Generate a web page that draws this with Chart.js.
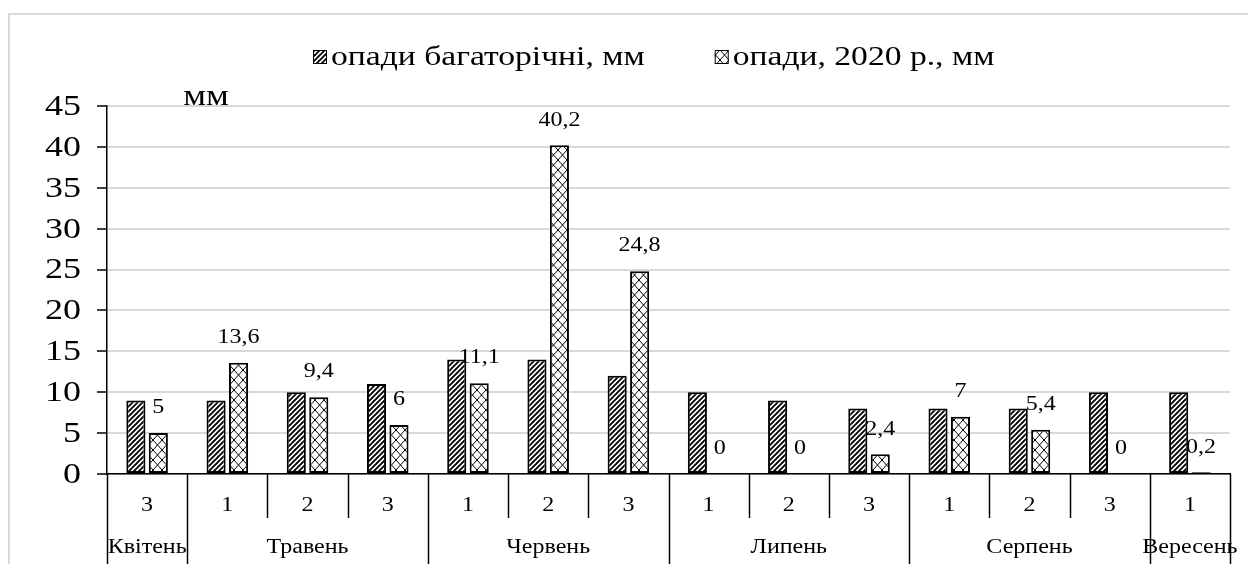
<!DOCTYPE html>
<html><head><meta charset="utf-8">
<script src="https://cdn.jsdelivr.net/npm/chart.js@4.4.1/dist/chart.umd.min.js"></script>
<style>html,body{margin:0;padding:0;background:#fff}#wrap{width:1248px;height:564px;position:relative}</style>
</head><body><div id="wrap"><canvas id="c" width="1248" height="564"></canvas></div>
<script>
const decades = ['3','1','2','3','1','2','3','1','2','3','1','2','3','1'];
const monthNames = ['Квітень','Травень','Червень','Липень','Серпень','Вересень'];
const monthSpans = [1,3,3,3,3,1];
const longTerm = [9,9,10,11,14,14,12,10,9,8,8,8,10,10];
const rain2020 = [5,13.6,9.4,6,11.1,40.2,24.8,0,0,2.4,7,5.4,0,0.2];
const yTicks = [0,5,10,15,20,25,30,35,40,45];
const seriesNames = ['опади багаторічні, мм','опади, 2020 р., мм'];
const unitLabel = 'мм';

const SERIF = "'Liberation Serif', serif";
const SX = 1.2; // horizontal text stretch of the original picture
const canvas = document.getElementById('c');
const ctx = canvas.getContext('2d');

function diagPattern(){
  const s=5, c=document.createElement('canvas'); c.width=c.height=s;
  const g=c.getContext('2d'); g.fillStyle='#fff'; g.fillRect(0,0,s,s);
  g.strokeStyle='#000'; g.lineWidth=1.9; g.beginPath();
  for(let k=-1;k<=1;k++){ g.moveTo(k*s - 1, s + 1); g.lineTo(k*s + s + 1, -1); }
  g.stroke(); return ctx.createPattern(c,'repeat');
}
function crossPattern(){
  const w=9,h=10, c=document.createElement('canvas'); c.width=w; c.height=h;
  const g=c.getContext('2d'); g.fillStyle='#fff'; g.fillRect(0,0,w,h);
  g.strokeStyle='#000'; g.lineWidth=1; g.beginPath();
  g.moveTo(0,0); g.lineTo(w,h); g.moveTo(0,h); g.lineTo(w,0); g.stroke();
  return ctx.createPattern(c,'repeat');
}
const pDiag = diagPattern(), pCross = crossPattern();

function txt(g, s, x, y, size, align, base){
  g.save();
  g.font = size+'px '+SERIF; g.fillStyle='#000';
  g.textAlign = align||'center'; g.textBaseline = base||'middle';
  g.translate(x,y); g.scale(SX,1); g.fillText(s,0,0);
  g.restore();
}

const decor = {
  id:'decor',
  beforeDraw(chart){
    const g=chart.ctx; g.save();
    g.strokeStyle='#d9d9d9'; g.lineWidth=2;
    g.strokeRect(9,14,1400,700);
    g.restore();
  },
  afterDraw(chart){
    const g=chart.ctx, x=chart.scales.x, y=chart.scales.y, ca=chart.chartArea;
    g.save();
    // legend
    const pats=[pDiag,pCross];
    const box=14, gapT=4, gapI=70;
    let lx=313; const ly=57;
    seriesNames.forEach((s,i)=>{
      g.fillStyle=pats[i]; g.fillRect(lx,ly-box/2,box,box);
      g.strokeStyle='#000'; g.lineWidth=1; g.strokeRect(lx+0.5,ly-box/2+0.5,box-1,box-1);
      g.font='28px '+SERIF;
      const w=g.measureText(s).width*SX;
      txt(g, s, lx+box+gapT, ly+1, 28, 'left', 'middle');
      lx+=box+gapT+w+gapI;
    });
    // unit label
    txt(g, unitLabel, ca.left+99, ca.top-1, 30, 'center', 'alphabetic');
    // y tick labels
    yTicks.forEach(v=>{ txt(g, String(v), ca.left-26, y.getPixelForValue(v)+1, 30, 'right', 'middle'); });
    // data labels for 2020 series
    const meta=chart.getDatasetMeta(1);
    meta.data.forEach((b,i)=>{
      txt(g, String(rain2020[i]).replace('.',','), b.x, b.y-25, 20, 'center', 'middle');
    });
    // category separators
    const n=decades.length, w=(x.right-x.left)/n, yb=ca.bottom;
    g.strokeStyle='#000'; g.lineWidth=1.5;
    const monthBounds=new Set(); let acc=0; monthBounds.add(0);
    monthSpans.forEach(s=>{acc+=s; monthBounds.add(acc);});
    for(let k=0;k<=n;k++){
      const px=Math.round(x.left+k*w)+0.5;
      const y2 = monthBounds.has(k) ? chart.height : yb+44;
      g.beginPath(); g.moveTo(px,yb); g.lineTo(px,y2); g.stroke();
    }
    // decade labels
    decades.forEach((d,i)=>{ txt(g, d, x.getPixelForValue(i), yb+32, 20, 'center', 'middle'); });
    // month labels
    acc=0;
    monthNames.forEach((m,i)=>{
      const cx=x.left+(acc+monthSpans[i]/2)*w;
      txt(g, m, cx, 548, 20, 'center', 'middle');
      acc+=monthSpans[i];
    });
    g.restore();
  }
};

function build(){
new Chart(canvas,{
  type:'bar',
  data:{labels:decades,datasets:[
    {label:seriesNames[0],data:longTerm,backgroundColor:pDiag,borderColor:'#000',borderWidth:2,borderSkipped:false,categoryPercentage:0.56,barPercentage:0.85},
    {label:seriesNames[1],data:rain2020,backgroundColor:pCross,borderColor:'#000',borderWidth:2,borderSkipped:false,categoryPercentage:0.56,barPercentage:0.85}
  ]},
  options:{
    responsive:false,animation:false,
    layout:{padding:{top:106,left:0,right:18,bottom:0}},
    plugins:{legend:{display:false},tooltip:{enabled:false}},
    scales:{
      x:{
        grid:{display:true,drawOnChartArea:false,drawTicks:false},
        border:{display:true,color:'#000',width:1.5},
        ticks:{display:false},
        afterFit(s){s.height=90;}
      },
      y:{
        min:0,max:45,
        ticks:{stepSize:5,display:false},
        grid:{color:'#d9d9d9',lineWidth:2,tickColor:'#000',tickLength:10,tickWidth:1.5},
        border:{display:true,color:'#000',width:1.5},
        afterFit(s){s.width=107;}
      }
    }
  },
  plugins:[decor]
});
}
const sizes=[20,28,30];
Promise.all(sizes.map(s=>document.fonts.load(s+"px 'Liberation Serif'", 'опади 0123'))).then(build, build);
</script></body></html>
